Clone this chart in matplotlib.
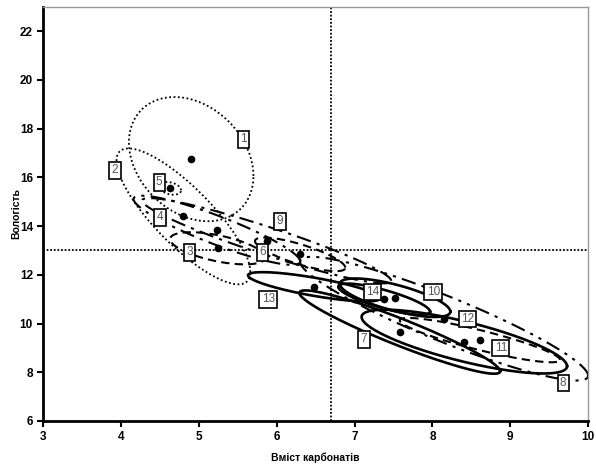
import numpy as np
import matplotlib
matplotlib.use("Agg")
from matplotlib import pyplot as plt

# group ids and ellipse parameters (centre, half-extent in x / y, correlation)
groups = ["1", "2", "3", "4", "5", "6", "7", "8", "9", "10", "11", "12", "13", "14"]
center_x = [4.90, 4.80, 5.24, 5.23, 4.63, 6.30, 7.58, 8.15, 5.87, 7.52, 8.41, 8.61, 6.48, 7.38]
center_y = [16.75, 14.40, 13.09, 13.83, 15.55, 12.84, 9.65, 10.20, 13.40, 11.06, 9.26, 9.32, 11.51, 11.00]
spread_x = [0.80, 0.86, 0.61, 1.07, 0.14, 0.58, 1.29, 1.85, 1.60, 0.71, 1.32, 1.03, 0.85, 0.59]
spread_y = [2.55, 2.79, 0.66, 1.42, 0.26, 0.69, 1.71, 2.54, 1.75, 0.79, 1.31, 0.91, 0.60, 0.64]
corr = [-0.27, -0.82, -0.57, -0.90, -0.30, -0.79, -0.94, -0.92, -0.94, -0.72, -0.77, -0.89, -0.78, -0.80]
styles = ["dot", "dot", "dash", "dashdot", "dot", "dash", "solid", "dashdotdot",
          "dashdot", "solid", "solid", "dash", "solid", "solid"]

# label positions
label_x = [5.57, 3.92, 4.88, 4.50, 4.49, 5.82, 7.12, 9.68, 6.04, 8.01, 8.88, 8.45, 5.89, 7.23]
label_y = [17.56, 16.29, 12.93, 14.36, 15.80, 12.93, 9.36, 7.56, 14.20, 11.29, 9.00, 10.19, 11.00, 11.29]

x_ref = 6.7
y_ref = 13

line_kw = {
    "dot": dict(linestyle=(0, (1, 1.4)), linewidth=1.3),
    "dash": dict(linestyle=(0, (4, 2.5)), linewidth=1.5),
    "dashdot": dict(linestyle=(0, (7, 3, 1.5, 3)), linewidth=1.5),
    "dashdotdot": dict(linestyle=(0, (7, 3, 1.5, 3, 1.5, 3)), linewidth=1.5),
    "solid": dict(linestyle="-", linewidth=1.9),
}

plt.rcParams['font.family'] = ['Liberation Sans', 'DejaVu Sans']

fig = plt.figure(figsize=(5.96, 4.70), dpi=100)
ax = fig.add_axes([0.0727, 0.1043, 0.914, 0.881])

t = np.linspace(0, 2 * np.pi, 300)
for i in range(len(groups)):
    r = corr[i]
    ex = center_x[i] + spread_x[i] * np.cos(t)
    ey = center_y[i] + spread_y[i] * (r * np.cos(t) + np.sqrt(1 - r ** 2) * np.sin(t))
    ax.plot(ex, ey, color="black", **line_kw[styles[i]])
    ax.plot(center_x[i], center_y[i], "o", color="black", markersize=4.5)
    ax.text(label_x[i], label_y[i], groups[i], fontsize=8.5, color="#555555",
            ha="center", va="center", zorder=5,
            bbox=dict(boxstyle="square,pad=0.2", facecolor="white", edgecolor="black", linewidth=1.2))

ax.axvline(x_ref, color="black", linestyle=(0, (1, 1)), linewidth=1.3)
ax.axhline(y_ref, color="black", linestyle=(0, (1, 1)), linewidth=1.3)

ax.set_xlim(3, 10)
ax.set_ylim(6, 23)
ax.set_xticks(range(3, 11))
ax.set_yticks(range(6, 23, 2))
ax.tick_params(direction="out", length=4, width=1.5, labelsize=8.5)
for lab in ax.get_xticklabels() + ax.get_yticklabels():
    lab.set_fontweight("bold")

for side in ["left", "bottom"]:
    ax.spines[side].set_linewidth(2)
    ax.spines[side].set_color("black")
for side in ["top", "right"]:
    ax.spines[side].set_linewidth(1)
    ax.spines[side].set_color("#999999")

ax.set_xlabel("Вміст карбонатів", fontsize=7.5, fontweight="bold")
ax.set_ylabel("Вологість", fontsize=7.5, fontweight="bold")
ax.xaxis.set_label_coords(0.5, -0.075)
ax.yaxis.set_label_coords(-0.041, 0.5)

fig.savefig("out.png", dpi=100)
